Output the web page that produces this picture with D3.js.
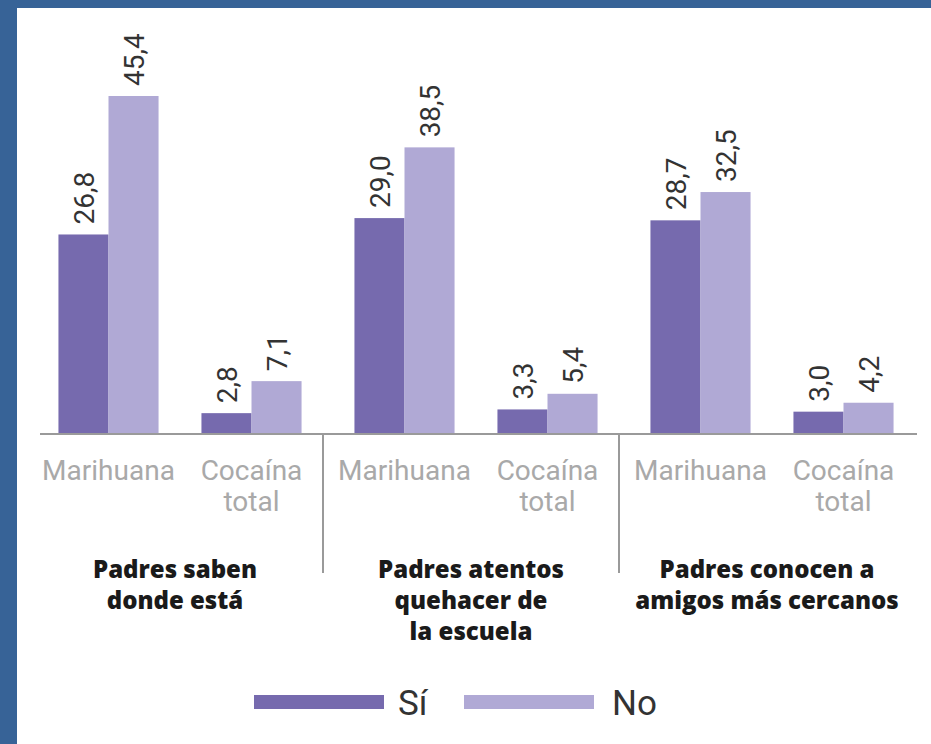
<!DOCTYPE html>
<html>
<head>
<meta charset="utf-8">
<script src="https://cdn.jsdelivr.net/npm/d3@7"></script>
<style>
  html, body { margin: 0; padding: 0; background: #376397; }
  svg { display: block; }
</style>
</head>
<body>
<div id="chart"></div>
<script>
'use strict';

const groups = [
  ['Padres saben', 'donde está'],
  ['Padres atentos', 'quehacer de', 'la escuela'],
  ['Padres conocen a', 'amigos más cercanos'],
];
const substances = [['Marihuana'], ['Cocaína', 'total']];
const series = ['Sí', 'No'];

// values per group: [Marihuana, Cocaína total]
const valuesSi = [[26.8, 2.8], [29.0, 3.3], [28.7, 3.0]];
const valuesNo = [[45.4, 7.1], [38.5, 5.4], [32.5, 4.2]];

const colors = ['#766aae', '#b0a9d5'];

const W = 931;
const H = 744;
const baseline = 434;

const fmt = (v) => d3.format('.1f')(v).replace('.', ',');

const svg = d3
  .select('#chart')
  .append('svg')
  .attr('width', W)
  .attr('height', H);

// white panel inside the blue frame
svg
  .append('rect')
  .attr('x', 17)
  .attr('y', 8)
  .attr('width', W - 17)
  .attr('height', H - 8)
  .attr('fill', '#fff');

const gIdx = d3.range(groups.length);
const sIdx = d3.range(substances.length);

const x0 = d3.scaleBand().domain(gIdx).range([27, 915]);
const x1 = d3
  .scaleBand()
  .domain(sIdx)
  .range([10, 296])
  .paddingInner(0.3)
  .paddingOuter(0.15);
const x2 = d3.scaleBand().domain(series).range([0, x1.bandwidth()]);

const y = d3.scaleLinear().domain([0, 45.4]).range([baseline, 96]);

const rows = [];
gIdx.forEach((g) => {
  sIdx.forEach((s) => {
    rows.push({ g, s, key: 'Sí', value: valuesSi[g][s] });
    rows.push({ g, s, key: 'No', value: valuesNo[g][s] });
  });
});

const bx = (d) => x0(d.g) + x1(d.s) + x2(d.key);

svg
  .append('g')
  .selectAll('rect')
  .data(rows)
  .enter()
  .append('rect')
  .attr('x', bx)
  .attr('y', (d) => y(d.value))
  .attr('width', x2.bandwidth())
  .attr('height', (d) => baseline - y(d.value))
  .attr('fill', (d) => colors[series.indexOf(d.key)]);

// rotated value labels
svg
  .append('g')
  .selectAll('text')
  .data(rows)
  .enter()
  .append('text')
  .attr(
    'transform',
    (d) =>
      'translate(' + (bx(d) + x2.bandwidth() / 2) + ',' + (y(d.value) - 10) + ') rotate(-90)'
  )
  .attr('dy', '0.36em')
  .attr('font-family', 'Roboto, sans-serif')
  .attr('font-size', 28)
  .attr('fill', '#333')
  .text((d) => fmt(d.value));

// baseline
svg
  .append('line')
  .attr('x1', 40)
  .attr('x2', 917)
  .attr('y1', baseline)
  .attr('y2', baseline)
  .attr('stroke', '#9a9a9a')
  .attr('stroke-width', 2);

// group dividers
svg
  .append('g')
  .selectAll('line')
  .data(gIdx.slice(1))
  .enter()
  .append('line')
  .attr('x1', (g) => x0(g))
  .attr('x2', (g) => x0(g))
  .attr('y1', baseline)
  .attr('y2', 573)
  .attr('stroke', '#9a9a9a')
  .attr('stroke-width', 2);

// substance labels
const cats = [];
gIdx.forEach((g) => sIdx.forEach((s) => cats.push({ g, s })));

svg
  .append('g')
  .selectAll('text')
  .data(cats)
  .enter()
  .append('text')
  .attr('x', (d) => x0(d.g) + x1(d.s) + x1.bandwidth() / 2)
  .attr('y', 480)
  .attr('text-anchor', 'middle')
  .attr('font-family', 'Roboto, sans-serif')
  .attr('font-size', 28)
  .attr('fill', '#a9a9a9')
  .each(function(d) {
    const t = d3.select(this);
    substances[d.s].forEach((line, i) => {
      t.append('tspan')
        .attr('x', t.attr('x'))
        .attr('dy', i === 0 ? 0 : 31)
        .text(line);
    });
  });

// group titles
svg
  .append('g')
  .selectAll('text')
  .data(gIdx)
  .enter()
  .append('text')
  .attr('x', (g) => x0(g) + x0.bandwidth() / 2)
  .attr('y', 578)
  .attr('text-anchor', 'middle')
  .attr('font-family', '"Open Sans", sans-serif')
  .attr('font-weight', 800)
  .attr('font-size', 24)
  .attr('fill', '#1a1a1a')
  .each(function(g) {
    const t = d3.select(this);
    groups[g].forEach((line, i) => {
      t.append('tspan')
        .attr('x', t.attr('x'))
        .attr('dy', i === 0 ? 0 : 31)
        .text(line);
    });
  });

// legend
const legendX = d3.scalePoint().domain(series).range([254, 464]);

const legend = svg
  .append('g')
  .selectAll('g')
  .data(series)
  .enter()
  .append('g')
  .attr('transform', (d) => 'translate(' + legendX(d) + ',695)');

legend
  .append('rect')
  .attr('width', 130)
  .attr('height', 14)
  .attr('fill', (d, i) => colors[i]);

legend
  .append('text')
  .attr('x', (d, i) => (i === 0 ? 144 : 148))
  .attr('y', 20)
  .attr('font-family', 'Roboto, sans-serif')
  .attr('font-size', 35)
  .attr('fill', '#333')
  .text((d) => d);
</script>
</body>
</html>
